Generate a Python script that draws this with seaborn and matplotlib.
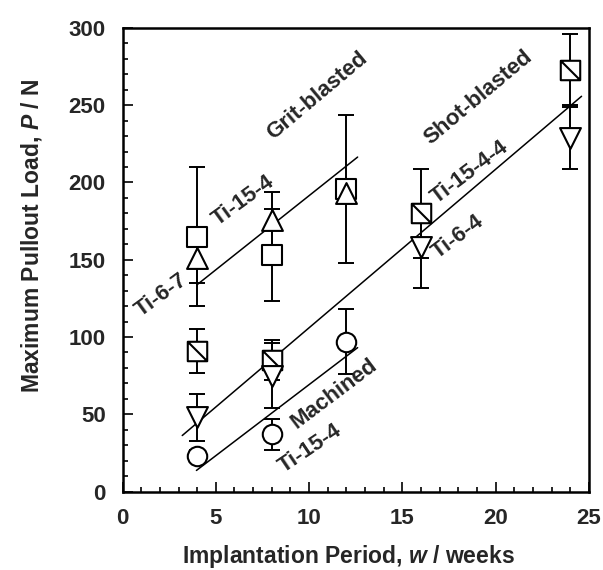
import numpy as np
import pandas as pd
import matplotlib
matplotlib.use("Agg")
import matplotlib.pyplot as plt
import seaborn as sns
from matplotlib.path import Path
from matplotlib.ticker import MultipleLocator

# --- data ---
grit_weeks = [4, 8, 12]
grit_ti154_load = [165, 153, 196]
grit_ti154_err = [45, 30, 48]
grit_ti67_load = [151, 176, 193]
grit_ti67_err = [16, 18, 6]

shot_weeks = [4, 8, 16, 24]
shot_ti1544_load = [91, 85, 180, 273]
shot_ti1544_err = [14, 13, 29, 23]
shot_ti64_load = [48, 75, 158, 229]
shot_ti64_err = [15, 21, 26, 20]

mach_weeks = [4, 8, 12]
mach_ti154_load = [23, 37, 97]
mach_ti154_err = [4, 10, 21]

# fitted trend lines: (slope, intercept, x start, x end)
grit_fit = (9.6, 95.5, 4.0, 12.6)
shot_fit = (10.26, 3.4, 3.2, 24.6)
mach_fit = (9.2, -22.8, 3.96, 12.6)


def main():
    sns.set_style("ticks")
    plt.rcParams["font.family"] = ["Liberation Sans", "DejaVu Sans"]
    plt.rcParams["font.weight"] = "bold"
    plt.rcParams["mathtext.fontset"] = "custom"
    plt.rcParams["mathtext.it"] = "Liberation Sans:bold:italic"
    plt.rcParams["mathtext.rm"] = "Liberation Sans:bold"

    fig = plt.figure(figsize=(6.03, 5.70), dpi=100)
    ax = fig.add_axes([0.2032, 0.1377, 0.7736, 0.8132])

    # square with a diagonal (top-left to bottom-right)
    sq_diag = Path(
        [(-1, -1), (1, -1), (1, 1), (-1, 1), (-1, -1), (-1, 1), (1, -1)],
        [Path.MOVETO, Path.LINETO, Path.LINETO, Path.LINETO, Path.CLOSEPOLY,
         Path.MOVETO, Path.LINETO],
    )

    # trend lines
    for slope, icpt, x0, x1 in [grit_fit, shot_fit, mach_fit]:
        fx = np.array([x0, x1])
        sns.lineplot(x=fx, y=slope * fx + icpt, color="black", lw=1.1, ax=ax, zorder=1)

    series = [
        (grit_weeks, grit_ti154_load, grit_ti154_err, "s", 14),
        (grit_weeks, grit_ti67_load, grit_ti67_err, "^", 15),
        (shot_weeks, shot_ti1544_load, shot_ti1544_err, sq_diag, 14),
        (shot_weeks, shot_ti64_load, shot_ti64_err, "v", 15),
        (mach_weeks, mach_ti154_load, mach_ti154_err, "o", 14),
    ]
    for wk, load, err, mk, ms in series:
        ax.errorbar(wk, load, yerr=err, fmt="none", ecolor="black",
                    elinewidth=1.4, capsize=6, capthick=1.4, zorder=2)
    for i, (wk, load, err, mk, ms) in enumerate(series):
        df = pd.DataFrame({"w": wk, "P": load})
        sns.scatterplot(data=df, x="w", y="P", marker=mk, s=ms ** 2,
                        color="white", edgecolor="black", linewidth=1.5,
                        ax=ax, zorder=3 + i, legend=False)

    # labels on the chart
    txt = dict(fontsize=16, fontweight="bold", ha="center", va="center",
               rotation_mode="anchor", zorder=10)
    ax.text(10.44, 256, "Grit-blasted", rotation=40, **txt)
    ax.text(6.45, 188, "Ti-15-4", rotation=36, **txt)
    ax.text(2.1, 127, "Ti-6-7", rotation=36, **txt)
    ax.text(19.06, 255, "Shot-blasted", rotation=40, **txt)
    ax.text(18.6, 206.5, "Ti-15-4-4", rotation=37, **txt)
    ax.text(18.0, 165, "Ti-6-4", rotation=37, **txt)
    ax.text(11.33, 63, "Machined", rotation=37, **txt)
    ax.text(10.06, 28, "Ti-15-4", rotation=34, **txt)

    ax.set_xlim(0, 25)
    ax.set_ylim(0, 300)
    ax.xaxis.set_major_locator(MultipleLocator(5))
    ax.xaxis.set_minor_locator(MultipleLocator(1))
    ax.yaxis.set_major_locator(MultipleLocator(50))
    ax.yaxis.set_minor_locator(MultipleLocator(10))
    ax.tick_params(which="both", direction="in", top=False, right=False,
                   width=1.4, labelsize=16, pad=12)
    ax.tick_params(which="major", length=7)
    ax.tick_params(which="minor", length=3.5)
    for lab in ax.get_xticklabels() + ax.get_yticklabels():
        lab.set_fontweight("bold")
    for sp in ax.spines.values():
        sp.set_linewidth(1.8)
        sp.set_color("black")

    ax.set_xlabel(r"Implantation Period, $w$ / weeks", fontsize=16.5,
                  fontweight="bold", va="center")
    ax.set_ylabel(r"Maximum Pullout Load, $P$ / N", fontsize=16.5,
                  fontweight="bold", va="center")
    ax.xaxis.set_label_coords(0.485, -0.141)
    ax.yaxis.set_label_coords(-0.196, 0.551)

    fig.savefig("out.png", dpi=100)


if __name__ == "__main__":
    main()
